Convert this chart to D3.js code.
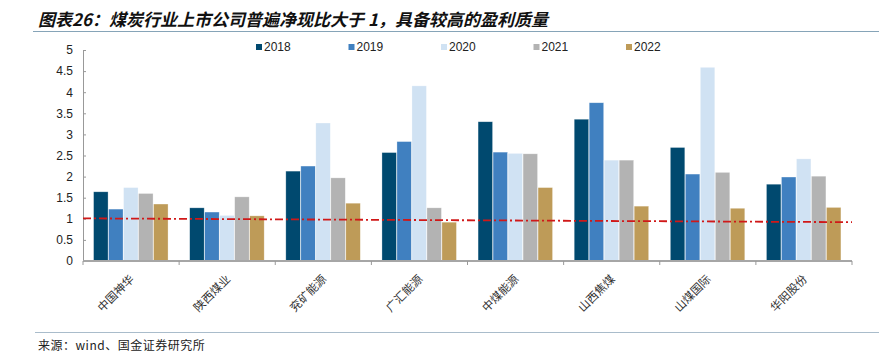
<!DOCTYPE html>
<html><head><meta charset="utf-8">
<script src="https://cdn.jsdelivr.net/npm/d3@7/dist/d3.min.js"></script>
<style>body{margin:0;background:#fff}svg{display:block}</style>
</head><body><svg id="c" width="879" height="357"></svg>
<script>
const categories = ["中国神华","陕西煤业","兖矿能源","广汇能源","中煤能源","山西焦煤","山煤国际","华阳股份"];
const seriesNames = ["2018","2019","2020","2021","2022"];
const s2018 = [1.64,1.26,2.13,2.57,3.30,3.36,2.69,1.82];
const s2019 = [1.23,1.16,2.25,2.83,2.58,3.75,2.06,1.99];
const s2020 = [1.74,1.08,3.27,4.15,2.55,2.39,4.59,2.42];
const s2021 = [1.60,1.52,1.97,1.26,2.54,2.39,2.10,2.01];
const s2022 = [1.35,1.07,1.37,0.92,1.74,1.30,1.25,1.27];
const refLine = [1.01, 0.92]; // dash-dot reference line, left end to right end
const yTicks = [0,0.5,1,1.5,2,2.5,3,3.5,4,4.5,5];
const colors = ["#00496f","#4080c0","#d0e2f3","#b3b3b3","#be9b58"];
const title = "图表26：煤炭行业上市公司普遍净现比大于 1，具备较高的盈利质量";
const source = "来源：wind、国金证券研究所";

const series = [s2018,s2019,s2020,s2021,s2022];
const svg = d3.select("#c");
const pL = 83, pR = 852, pT = 50, pB = 261;

// title
svg.append("text").attr("x",38).attr("y",26)
  .style("font-family","'Noto Sans CJK SC'").style("font-size","17px")
  .style("font-weight","bold").style("font-style","italic").attr("fill","#111")
  .text(title);
svg.append("line").attr("x1",33).attr("x2",879).attr("y1",31.5).attr("y2",31.5)
  .attr("stroke","#86a4b8").attr("stroke-width",1.2);
svg.append("line").attr("x1",35).attr("x2",879).attr("y1",332.5).attr("y2",332.5)
  .attr("stroke","#a9bccb").attr("stroke-width",1.2);
svg.append("text").attr("x",38).attr("y",350)
  .style("font-family","'Noto Sans CJK SC'").style("font-size","12px").style("letter-spacing","0.5px").attr("fill","#222")
  .text(source);

const x0 = d3.scaleBand().domain(categories).range([pL,pR]).paddingInner(0.22).paddingOuter(0.11);
const x1 = d3.scaleBand().domain(seriesNames).range([0,x0.bandwidth()]);
const y = d3.scaleLinear().domain([0,5]).range([pB,pT]);

// bars
const g = svg.append("g");
series.forEach((vals,si)=>{
  g.selectAll(null).data(vals).enter().append("rect")
    .attr("x",(d,i)=>x0(categories[i])+x1(seriesNames[si]))
    .attr("width",x1.bandwidth()-0.5)
    .attr("y",d=>y(d)).attr("height",d=>y(0)-y(d))
    .attr("fill",colors[si]).attr("stroke","rgba(255,255,255,0.5)").attr("stroke-width",0.6);
});

// y axis
const ya = svg.append("g").attr("transform",`translate(${pL},0)`)
  .call(d3.axisLeft(y).tickValues(yTicks).tickSize(0).tickPadding(10).tickFormat(d3.format("")));
ya.select(".domain").attr("stroke","#999");
ya.selectAll("text").style("font-family","Arial, 'Liberation Sans'").style("font-size","12px").attr("fill","#222");
ya.selectAll(".tick").append("line").attr("x1",0).attr("x2",3).attr("stroke","#999");

// x axis
const xs = d3.scaleLinear().domain([0,categories.length]).range([pL,pR]);
const xa = svg.append("g").attr("transform",`translate(0,${pB})`);
xa.append("line").attr("x1",pL).attr("x2",pR).attr("stroke","#a6a6a6").attr("stroke-width",2);
xa.selectAll(null).data(d3.range(categories.length+1)).enter().append("line")
  .attr("x1",d=>xs(d)).attr("x2",d=>xs(d)).attr("y1",0).attr("y2",4).attr("stroke","#999");
xa.selectAll(null).data(categories).enter().append("text")
  .attr("transform",d=>`translate(${x0(d)+x0.bandwidth()/2+1},${16}) rotate(-45)`)
  .attr("text-anchor","end").attr("dy","0.35em")
  .style("font-family","'Noto Sans CJK SC'").style("font-size","11.5px").attr("fill","#333")
  .text(d=>d);

// reference line
const rx = d3.scaleLinear().domain([0,refLine.length-1]).range([pL,pR]);
svg.append("path").datum(refLine)
  .attr("d",d3.line().x((d,i)=>rx(i)).y(d=>y(d)))
  .attr("fill","none").attr("stroke","#d01818").attr("stroke-width",1.8)
  .attr("stroke-dasharray","8,3,2,3");

// legend
const lg = svg.append("g");
seriesNames.forEach((n,i)=>{
  const lx = 256 + i*92.5;
  lg.append("rect").attr("x",lx).attr("y",44).attr("width",6).attr("height",6).attr("fill",colors[i]);
  lg.append("text").attr("x",lx+8).attr("y",47).attr("dy","0.35em")
    .style("font-family","Arial, 'Liberation Sans'").style("font-size","12px").attr("fill","#222").text(n);
});
</script></body></html>
